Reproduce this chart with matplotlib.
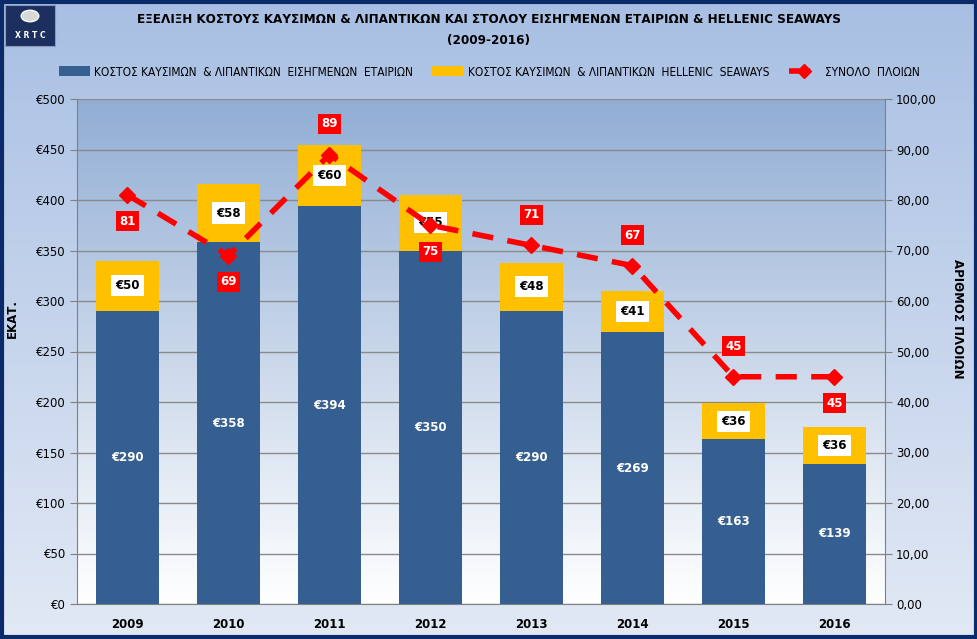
import matplotlib
matplotlib.use("Agg")
import matplotlib.pyplot as plt
import numpy as np
from matplotlib.patches import Rectangle, Patch, Circle
from matplotlib.lines import Line2D
import matplotlib.colors as mcolors

years = ["2009", "2010", "2011", "2012", "2013", "2014", "2015", "2016"]
listed_cost = [290, 358, 394, 350, 290, 269, 163, 139]
hs_cost = [50, 58, 60, 55, 48, 41, 36, 36]
fleet = [81, 69, 89, 75, 71, 67, 45, 45]
fleet_label_pos = ["below", "below", "above", "below", "above", "above", "above", "below"]

title = "ΕΞΕΛΙΞΗ ΚΟΣΤΟΥΣ ΚΑΥΣΙΜΩΝ & ΛΙΠΑΝΤΙΚΩΝ ΚΑΙ ΣΤΟΛΟΥ ΕΙΣΗΓΜΕΝΩΝ ΕΤΑΙΡΙΩΝ & HELLENIC SEAWAYS\n(2009-2016)"
leg_labels = ["ΚΟΣΤΟΣ ΚΑΥΣΙΜΩΝ  & ΛΙΠΑΝΤΙΚΩΝ  ΕΙΣΗΓΜΕΝΩΝ  ΕΤΑΙΡΙΩΝ",
              "ΚΟΣΤΟΣ ΚΑΥΣΙΜΩΝ  & ΛΙΠΑΝΤΙΚΩΝ  HELLENIC  SEAWAYS",
              "ΣΥΝΟΛΟ  ΠΛΟΙΩΝ"]

BLUE = "#365f91"
GOLD = "#ffc000"
RED = "#ff0000"

fig = plt.figure(figsize=(9.78, 6.39), dpi=100)

# figure background gradient
bg = fig.add_axes([0, 0, 1, 1], zorder=-10)
grad = np.linspace(0, 1, 256).reshape(-1, 1)
cmap_bg = mcolors.LinearSegmentedColormap.from_list("bg", ["#a8bfe3", "#e2e9f5"])
bg.imshow(grad, aspect="auto", cmap=cmap_bg, extent=[0, 1, 0, 1], origin="upper")
bg.set_xlim(0, 1)
bg.set_ylim(0, 1)
bg.set_axis_off()
bg.add_patch(Rectangle((0.002, 0.003), 0.996, 0.994, transform=bg.transAxes,
                       fill=False, edgecolor="#0b2a6a", linewidth=3))
# logo
bg.add_patch(Rectangle((5/978, 1 - 46/639), 50/978, 41/639, transform=bg.transAxes,
                       facecolor="#1c2f5e", edgecolor="#8899bb", linewidth=0.8, zorder=3))
bg.add_patch(Circle((30/978, 1 - 16/639), 0.009, transform=bg.transAxes,
                    facecolor="#d8d8d8", edgecolor="white", zorder=4))
bg.text(30/978, 1 - 36/639, "X R T C", transform=bg.transAxes, ha="center", va="center",
        color="white", fontsize=5.5, fontweight="bold", zorder=5)

ax = fig.add_axes([77/978, 35/639, 808/978, 505/639])
ax.set_facecolor("none")
cmap_pa = mcolors.LinearSegmentedColormap.from_list("pa", ["#92aed5", "#ffffff"])
ax.imshow(grad, aspect="auto", cmap=cmap_pa, extent=[0, 1, 0, 1], origin="upper",
          transform=ax.transAxes, zorder=0)

x = np.arange(len(years))
ax.bar(x, listed_cost, width=0.63, color=BLUE, zorder=3)
ax.bar(x, hs_cost, width=0.63, bottom=listed_cost, color=GOLD, zorder=3)
ax.set_xlim(-0.5, len(years) - 0.5)
ax.set_ylim(0, 500)
ax.set_yticks(np.arange(0, 501, 50))
ax.set_yticklabels([f"€{v}" for v in range(0, 501, 50)], fontsize=8.5)
ax.set_xticks(x)
ax.set_xticklabels(years, fontsize=8.5, fontweight="bold")
ax.tick_params(axis="x", length=0, pad=10)
ax.tick_params(axis="y", length=5, color="#808080", pad=3)
ax.grid(axis="y", color="#8a8a8a", linewidth=1, zorder=1)
ax.spines["top"].set_visible(False)
ax.spines["right"].set_visible(False)
for s in ["left", "bottom"]:
    ax.spines[s].set_color("#808080")

for i in range(len(years)):
    ax.text(x[i], listed_cost[i] / 2, f"€{listed_cost[i]}", ha="center", va="center",
            color="white", fontsize=8.5, fontweight="bold", zorder=5)
    ax.text(x[i], listed_cost[i] + hs_cost[i] / 2, f"€{hs_cost[i]}", ha="center", va="center",
            color="black", fontsize=8.5, fontweight="bold", zorder=6,
            bbox=dict(boxstyle="square,pad=0.35", facecolor="white", edgecolor="none"))

ax2 = ax.twinx()
ax2.set_ylim(0, 100)
ax2.set_yticks(np.arange(0, 101, 10))
ax2.set_yticklabels([f"{v},00" for v in range(0, 101, 10)], fontsize=8.5)
ax2.tick_params(axis="y", length=5, color="#808080", pad=3)
for s in ["top", "left", "bottom"]:
    ax2.spines[s].set_visible(False)
ax2.spines["right"].set_color("#808080")
ax2.plot(x, fleet, color=RED, linewidth=4, linestyle=(0, (3.8, 2.6)), marker="D",
         markersize=8, markerfacecolor=RED, markeredgecolor=RED, zorder=7)
for i in range(len(years)):
    off = 22 if fleet_label_pos[i] == "above" else -19
    ax2.annotate(str(fleet[i]), (x[i], fleet[i]), xytext=(0, off), textcoords="offset points",
                 ha="center", va="center", color="white", fontsize=8.5, fontweight="bold",
                 zorder=8,
                 bbox=dict(boxstyle="square,pad=0.3", facecolor=RED, edgecolor="none"))

fig.text(12/978, 320/639, "ΕΚΑΤ.", rotation=90, ha="center", va="center",
         fontsize=8.5, fontweight="bold")
fig.text(958/978, 320/639, "ΑΡΙΘΜΟΣ ΠΛΟΙΩΝ", rotation=270, ha="center", va="center",
         fontsize=8.5, fontweight="bold")

fig.text(0.5, 1 - 30/639, title, ha="center", va="center", fontsize=9.6,
         fontweight="bold", fontstretch="condensed", linespacing=1.75)

handles = [Patch(facecolor=BLUE, edgecolor="none"),
           Patch(facecolor=GOLD, edgecolor="none"),
           Line2D([0], [0], color=RED, linewidth=4, linestyle=(0, (3.8, 2.6)),
                  marker="D", markersize=7)]
fig.legend(handles, leg_labels, loc="center", bbox_to_anchor=(0.5, 1 - 72/639),
           ncol=3, frameon=False, prop={"size": 8.6, "stretch": "condensed"},
           handlelength=2.6, handleheight=0.9, columnspacing=1.6, handletextpad=0.4)

fig.savefig("out.png", dpi=100)
